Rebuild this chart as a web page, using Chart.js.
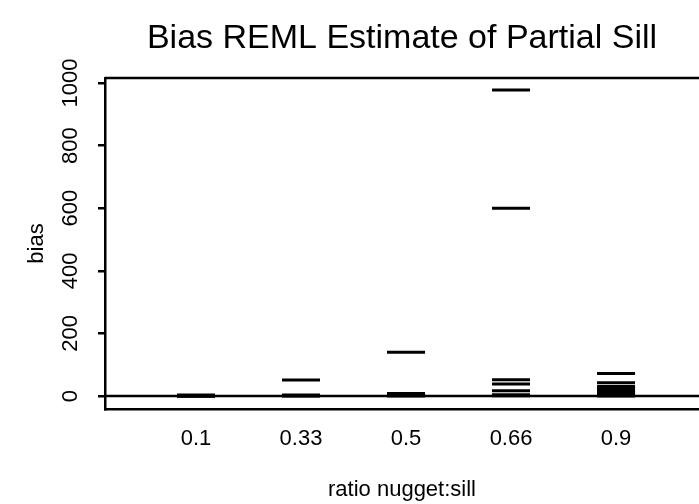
<!DOCTYPE html>
<html>
<head>
<meta charset="utf-8">
<script src="https://cdn.jsdelivr.net/npm/chart.js@4"></script>
<style>
  html, body { margin: 0; padding: 0; background: #fff; overflow: hidden; }
  #wrap { width: 699px; height: 504px; }
</style>
</head>
<body>
<div id="wrap"><canvas id="c" width="699" height="504"></canvas></div>
<script>
// ---- data ----
const categories = ["0.1", "0.33", "0.5", "0.66", "0.9"];
const bias_0_1  = [-1, 0, 1, 2, 3];
const bias_0_33 = [51, 0, 1, 2, 3];
const bias_0_5  = [140, 0, 2, 4, 6, 8];
const bias_0_66 = [978, 600, 52, 38, 17, 4, 1];
const bias_0_9  = [72, 42, 30, 26, 22, 18, 14, 10, 7, 4, 2, 0];
const seriesValues = [bias_0_1, bias_0_33, bias_0_5, bias_0_66, bias_0_9];
const yTicks = [0, 200, 400, 600, 800, 1000];
const titleText = "Bias REML Estimate of Partial Sill";
const xTitle = "ratio nugget:sill";
const yTitle = "bias";

const FONT = "'Liberation Sans', Arial, Helvetica, sans-serif";

const points = [];
seriesValues.forEach((vals, i) => vals.forEach(v => points.push({ x: i + 1, y: v })));

const framePlugin = {
  id: 'frame',
  afterDatasetsDraw(chart) {
    const { ctx, chartArea: a, scales: { y } } = chart;
    ctx.save();
    ctx.strokeStyle = '#000';
    ctx.lineWidth = 2.5;
    // reference line at bias = 0
    const y0 = y.getPixelForValue(0);
    ctx.beginPath();
    ctx.moveTo(a.left, y0);
    ctx.lineTo(a.right, y0);
    ctx.stroke();
    // top edge of the box (left/bottom drawn by the axes)
    ctx.beginPath();
    ctx.moveTo(a.left, a.top);
    ctx.lineTo(a.right, a.top);
    ctx.stroke();
    ctx.restore();
  }
};

new Chart(document.getElementById('c'), {
  type: 'scatter',
  data: {
    datasets: [{
      data: points,
      pointStyle: 'line',
      radius: 19,
      hoverRadius: 19,
      borderWidth: 3,
      hoverBorderWidth: 3,
      borderColor: '#000',
      backgroundColor: '#000',
      clip: false
    }]
  },
  options: {
    responsive: false,
    animation: false,
    events: [],
    layout: { padding: 0, autoPadding: false },
    plugins: {
      legend: { display: false },
      tooltip: { enabled: false },
      title: {
        display: true,
        text: titleText,
        fullSize: false,
        color: '#000',
        font: { family: FONT, size: 34, weight: 'normal', lineHeight: 1.2 },
        padding: { top: 18, bottom: 19.2 }
      }
    },
    scales: {
      x: {
        type: 'linear',
        min: 0.1333,
        max: 5.790,
        afterFit(s) { s.height = 95; s.paddingLeft = 0; s.paddingRight = 0; },
        afterBuildTicks(s) { s.ticks = categories.map((c, i) => ({ value: i + 1 })); },
        grid: { display: false, drawTicks: false },
        border: { display: true, color: '#000', width: 2.5 },
        ticks: {
          color: '#000',
          font: { family: FONT, size: 22 },
          padding: 17,
          maxRotation: 0,
          autoSkip: false,
          callback: (v) => categories[Math.round(v) - 1]
        },
        title: {
          display: true,
          text: xTitle,
          color: '#000',
          font: { family: FONT, size: 22, lineHeight: 1.2 },
          padding: { top: 0, bottom: 1 }
        }
      },
      y: {
        min: -41.5,
        max: 1016,
        afterFit(s) { s.width = 105; },
        afterBuildTicks(s) { s.ticks = yTicks.map(v => ({ value: v })); },
        grid: {
          display: true,
          drawOnChartArea: false,
          drawTicks: true,
          tickLength: 7,
          color: '#000',
          lineWidth: 2.5
        },
        border: { display: true, color: '#000', width: 2.5 },
        ticks: {
          color: '#000',
          font: { family: FONT, size: 22 },
          minRotation: 90,
          maxRotation: 90,
          crossAlign: 'center',
          padding: 2.5,
          autoSkip: false,
          callback: (v) => String(v)
        },
        title: {
          display: true,
          text: yTitle,
          color: '#000',
          font: { family: FONT, size: 22, lineHeight: 1.2 },
          padding: { top: 24, bottom: 0 }
        }
      }
    }
  },
  plugins: [framePlugin]
});
</script>
</body>
</html>
